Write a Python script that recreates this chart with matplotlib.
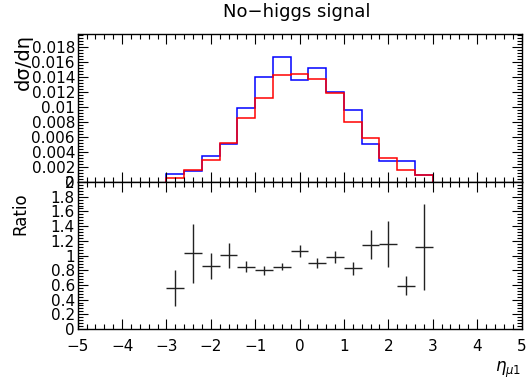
# -*- coding: utf-8 -*-
"""
Pseudorapidity of the leading muon: no-higgs signal, two samples and their ratio
"""
import numpy as np
import matplotlib
matplotlib.use('Agg')
import matplotlib.pyplot as plt
from matplotlib.ticker import MultipleLocator, FixedLocator

# ============================  Input data  ==============================
edges = [-3.0, -2.6, -2.2, -1.8, -1.4, -1.0, -0.6, -0.2,
         0.2, 0.6, 1.0, 1.4, 1.8, 2.2, 2.6, 3.0]
centres = [-2.8, -2.4, -2.0, -1.6, -1.2, -0.8, -0.4,
           0.0, 0.4, 0.8, 1.2, 1.6, 2.0, 2.4, 2.8]

# dsigma/deta, blue sample
hist_blue = [0.00102, 0.00147, 0.00347, 0.0051, 0.00991, 0.01404, 0.01658,
             0.0136, 0.01524, 0.01204, 0.00964, 0.0051, 0.00276, 0.00276, 0.00089]
# dsigma/deta, red sample
hist_red = [0.00058, 0.00156, 0.00298, 0.0052, 0.00849, 0.01124, 0.01418,
            0.01444, 0.01369, 0.01182, 0.0080, 0.00587, 0.00324, 0.00164, 0.00093]

# red / blue ratio and its uncertainty
ratio = [0.558, 1.03, 0.855, 1.004, 0.85, 0.797, 0.846,
         1.058, 0.896, 0.977, 0.824, 1.148, 1.157, 0.59, 1.116]
ratio_err = [0.25, 0.40, 0.18, 0.17, 0.08, 0.06, 0.05,
             0.085, 0.065, 0.085, 0.09, 0.195, 0.31, 0.13, 0.59]

upper_ticks = [0, 0.002, 0.004, 0.006, 0.008, 0.01, 0.012, 0.014, 0.016, 0.018]
upper_labels = ['0', '0.002', '0.004', '0.006', '0.008', '0.01',
                '0.012', '0.014', '0.016', '0.018']
lower_ticks = [0, 0.2, 0.4, 0.6, 0.8, 1.0, 1.2, 1.4, 1.6, 1.8, 2.0]
lower_labels = ['0', '0.2', '0.4', '0.6', '0.8', '1', '1.2', '1.4', '1.6', '1.8', '2']

# ============================  Settings  ================================
plt.rcParams['font.family'] = ['DejaVu Sans']
plt.rcParams['mathtext.fontset'] = 'dejavusans'
W, H = 530, 383
x0, x1 = 77.7, 521.5
y_top, y_mid, y_bot = 34, 182, 329


def style_axis(ax, label_size):
    ax.set_xlim(-5, 5)
    ax.xaxis.set_major_locator(MultipleLocator(1))
    ax.xaxis.set_minor_locator(MultipleLocator(0.2))
    ax.tick_params(which='both', direction='in', top=True, right=True,
                   width=0.8, colors='black', labelsize=label_size, pad=2)
    ax.tick_params(which='major', length=7)
    ax.tick_params(which='minor', length=3.5)
    for sp in ax.spines.values():
        sp.set_linewidth(1.0)


# =============================    Main program   ======================
if __name__ == '__main__':
    fig = plt.figure(figsize=(W / 100, H / 100), dpi=100)
    ax1 = fig.add_axes([x0 / W, 1 - y_mid / H, (x1 - x0) / W, (y_mid - y_top) / H])
    ax2 = fig.add_axes([x0 / W, 1 - y_bot / H, (x1 - x0) / W, (y_bot - y_mid) / H])

    # -- upper pad: the two histograms
    ax1.stairs(hist_blue, edges, color='#0000ff', lw=1.1, baseline=0)
    ax1.stairs(hist_red, edges, color='#ff0000', lw=1.1, baseline=0)
    style_axis(ax1, 11)
    ax1.set_ylim(0, 0.0197)
    ax1.yaxis.set_major_locator(FixedLocator(upper_ticks))
    ax1.set_yticklabels(upper_labels)
    ax1.yaxis.set_minor_locator(MultipleLocator(0.0004))
    ax1.tick_params(axis='x', labelbottom=False)

    # -- lower pad: ratio with error crosses
    ax2.errorbar(centres, ratio, yerr=ratio_err, xerr=0.2, fmt='none',
                 ecolor='#222222', elinewidth=1.0, capsize=0)
    style_axis(ax2, 11)
    ax2.set_ylim(0, 2.0)
    ax2.yaxis.set_major_locator(FixedLocator(lower_ticks))
    ax2.set_yticklabels(lower_labels)
    ax2.yaxis.set_minor_locator(MultipleLocator(0.04))
    ax2.tick_params(axis='x', pad=7)

    # -- titles
    fig.text(296.5 / W, 1 - 12 / H, 'No\u2212higgs signal', ha='center', va='center',
             fontsize=13)
    fig.text(23 / W, 1 - y_top / H, 'd\u03c3/d\u03b7', rotation=90, ha='center',
             va='top', fontsize=14)
    fig.text(20 / W, 1 - 192 / H, 'Ratio', rotation=90, ha='center', va='top',
             fontsize=12)
    fig.text(x1 / W, 1 - 370 / H, r'$\eta_{\mu 1}$', ha='right', va='center',
             fontsize=12)

    plt.savefig('out.png', dpi=100)
# =============================    End of program   =====================
